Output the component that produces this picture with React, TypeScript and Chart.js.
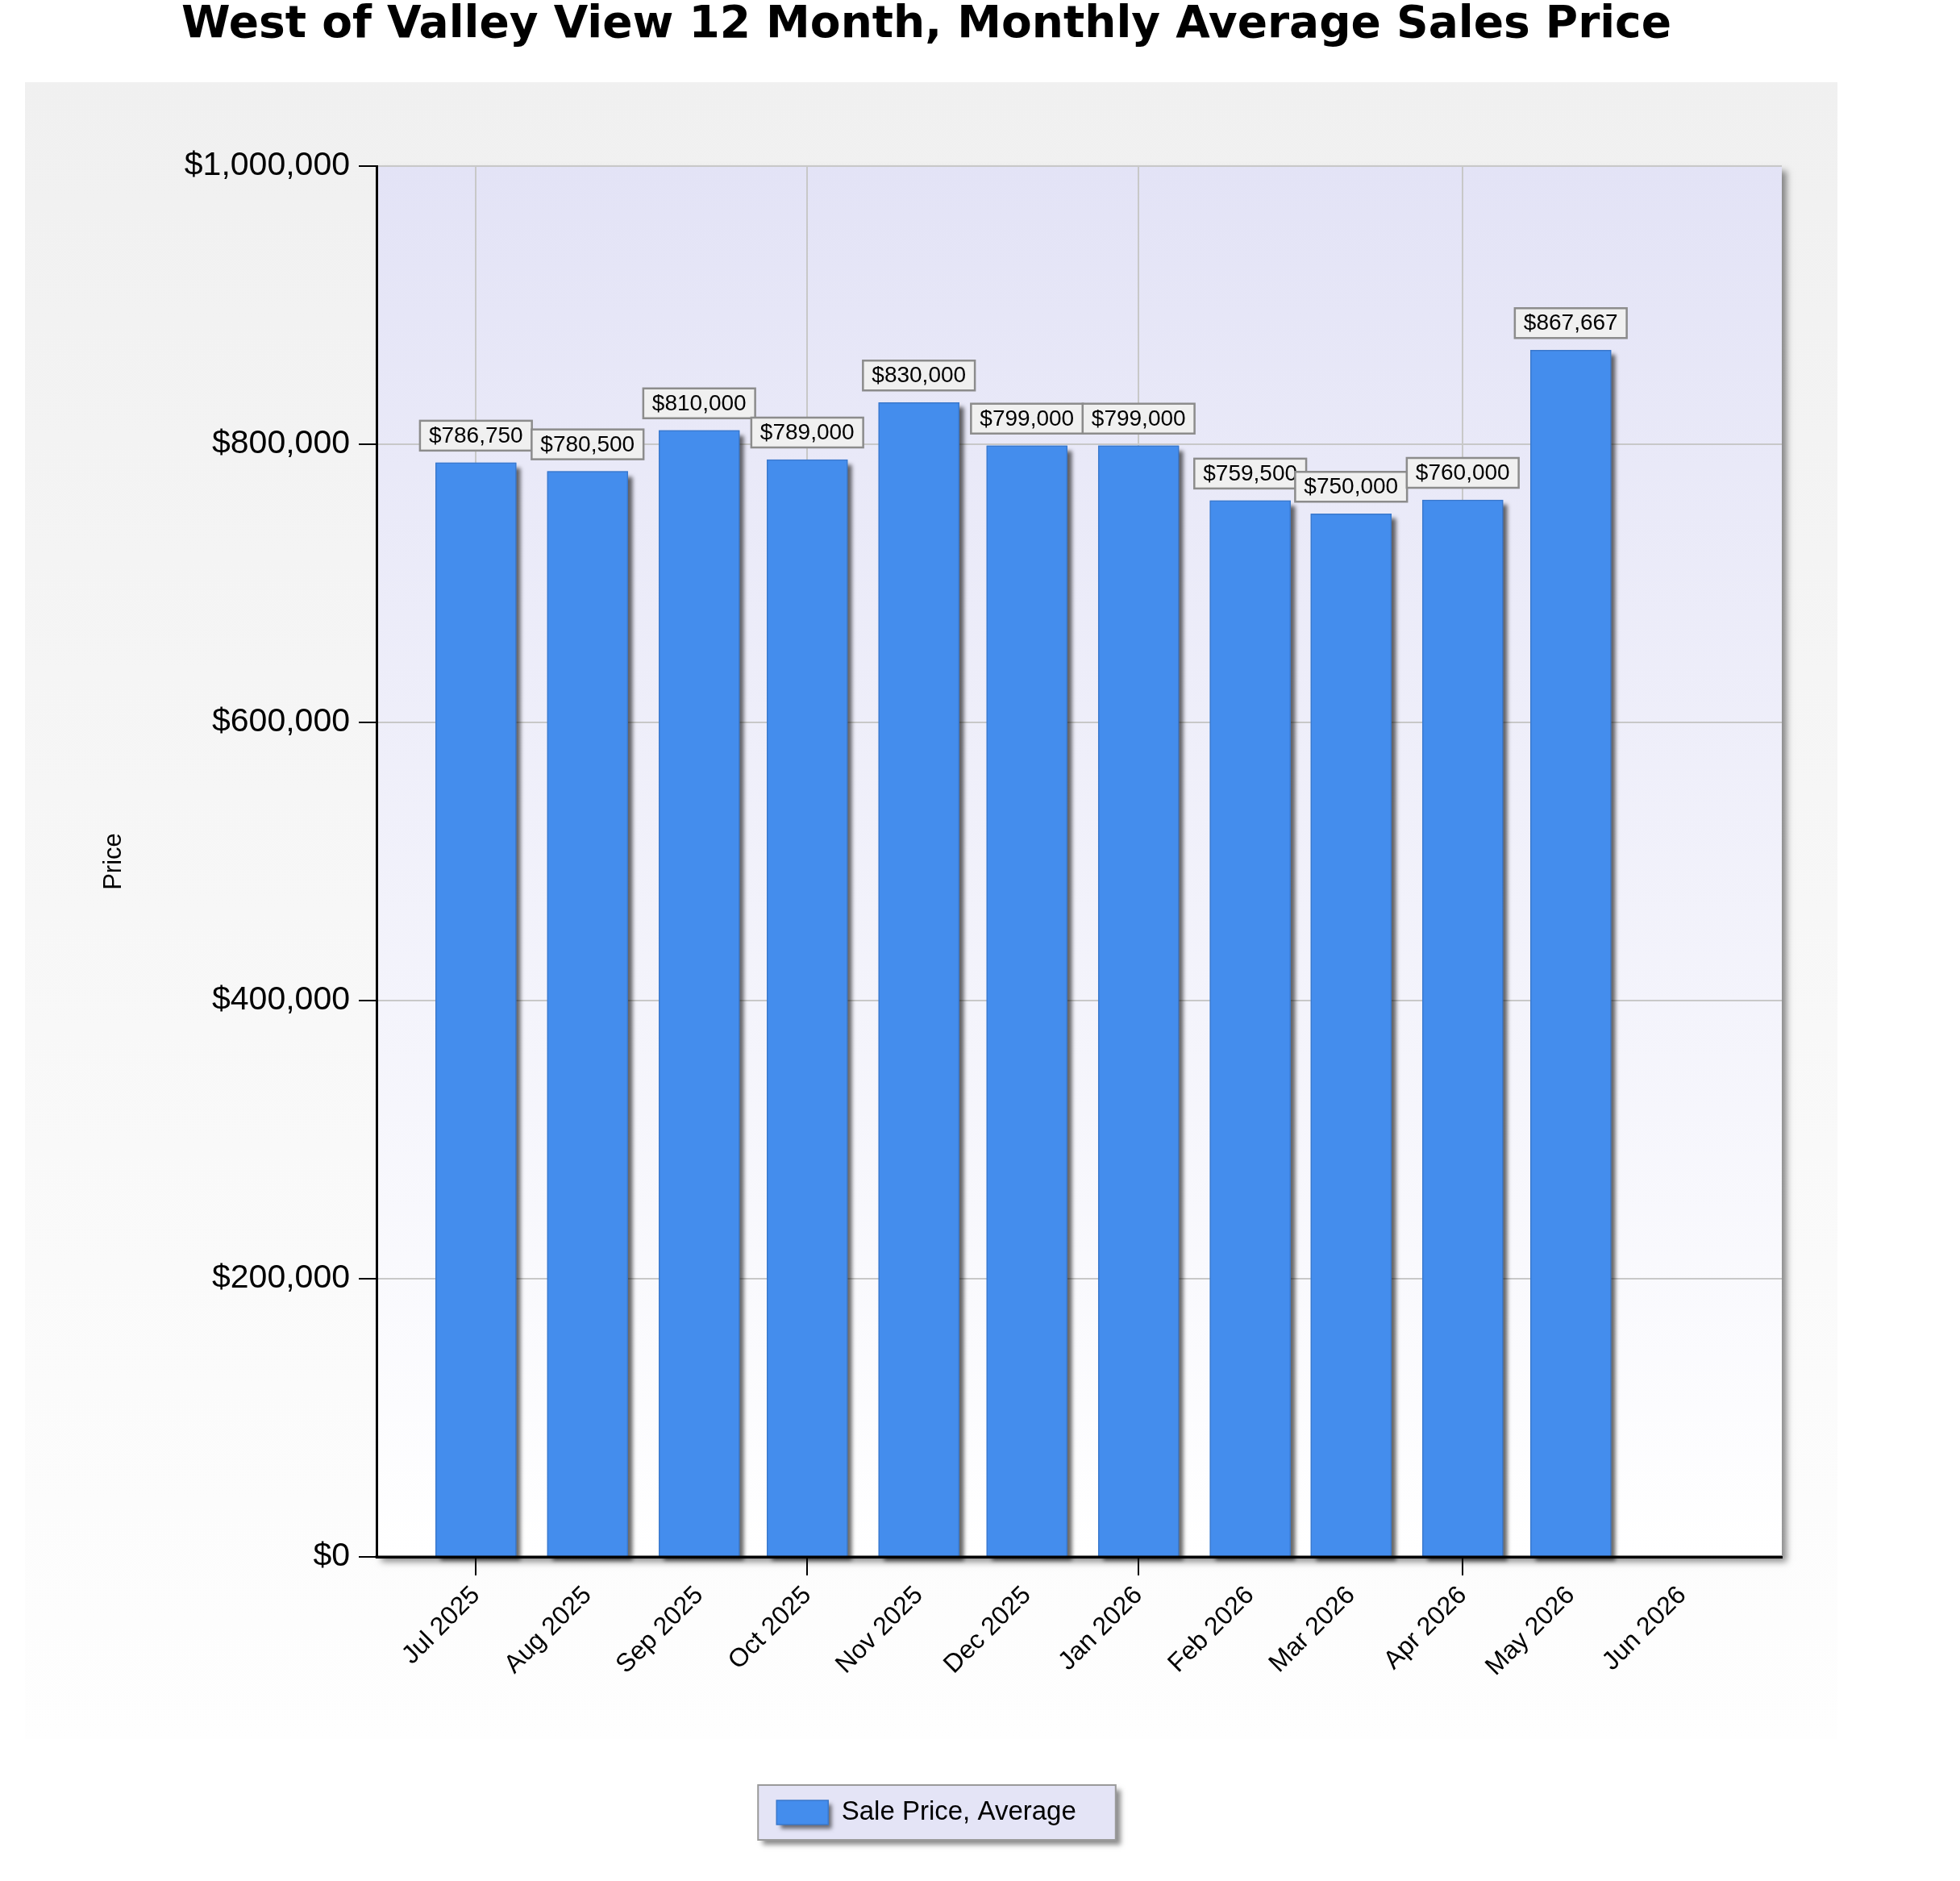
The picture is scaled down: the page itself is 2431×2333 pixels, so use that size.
import { useEffect, useRef } from "react";
import { Chart, registerables } from "chart.js";

Chart.register(...registerables);

// Chart data
const monthLabels = [
  "Jul 2025", "Aug 2025", "Sep 2025", "Oct 2025", "Nov 2025", "Dec 2025",
  "Jan 2026", "Feb 2026", "Mar 2026", "Apr 2026", "May 2026", "Jun 2026",
];
const monthStarts = [
  "2025-07-01", "2025-08-01", "2025-09-01", "2025-10-01", "2025-11-01", "2025-12-01",
  "2026-01-01", "2026-02-01", "2026-03-01", "2026-04-01", "2026-05-01", "2026-06-01",
];
const avgPrice: (number | null)[] = [
  786750, 780500, 810000, 789000, 830000, 799000,
  799000, 759500, 750000, 760000, 867667, null,
];
const priceTicks = [0, 200000, 400000, 600000, 800000, 1000000];

const TITLE = "West of Valley View 12 Month, Monthly Average Sales Price";
const SERIES = "Sale Price, Average";
const BAR_BLUE = "#448ded";

// months sit on a day-based axis (like the original time axis)
const dayNum = (iso: string) => Date.parse(iso + "T00:00:00Z") / 86400000;
const firstDay = dayNum(monthStarts[0]);
const monthDays = monthStarts.map((s) => dayNum(s) - firstDay);
const EDGE_DAYS = 27.6;

const money = (v: number) => "$" + v.toLocaleString("en-US");

// panel, plot area and legend backgrounds
const backdrop = {
  id: "backdrop",
  beforeDraw(chart: any) {
    const { ctx, chartArea: a } = chart;
    ctx.save();

    // outer gray panel
    const pTop = a.top - 104;
    const pBottom = a.bottom + 226;
    const pg = ctx.createLinearGradient(0, pTop, 0, pBottom);
    pg.addColorStop(0, "#f0f0f0");
    pg.addColorStop(1, "#fefefe");
    ctx.fillStyle = pg;
    ctx.fillRect(a.left - 436, pTop, a.width + 436 + 69, pBottom - pTop);

    // plot area with shadow
    ctx.shadowColor = "rgba(0,0,0,0.45)";
    ctx.shadowBlur = 8;
    ctx.shadowOffsetX = 6;
    ctx.shadowOffsetY = 6;
    ctx.fillStyle = "#ffffff";
    ctx.fillRect(a.left, a.top, a.width, a.height);
    ctx.shadowColor = "transparent";
    const g = ctx.createLinearGradient(0, a.top, 0, a.bottom);
    g.addColorStop(0, "#e3e3f6");
    g.addColorStop(1, "#ffffff");
    ctx.fillStyle = g;
    ctx.fillRect(a.left, a.top, a.width, a.height);

    // legend frame
    const hb = chart.legend?.legendHitBoxes?.[0];
    if (hb) {
      const cy = hb.top + hb.height / 2;
      const bx = hb.left - 23;
      const bw = hb.width + 72;
      ctx.shadowColor = "rgba(0,0,0,0.45)";
      ctx.shadowBlur = 6;
      ctx.shadowOffsetX = 6;
      ctx.shadowOffsetY = 6;
      ctx.fillStyle = "#e4e4f6";
      ctx.fillRect(bx, cy - 34, bw, 68);
      ctx.shadowColor = "transparent";
      ctx.strokeStyle = "#9a9a9a";
      ctx.lineWidth = 2;
      ctx.strokeRect(bx, cy - 34, bw, 68);
      // shadow under the swatch
      ctx.shadowColor = "rgba(0,0,0,0.55)";
      ctx.shadowBlur = 5;
      ctx.shadowOffsetX = 5;
      ctx.shadowOffsetY = 5;
      ctx.fillStyle = BAR_BLUE;
      ctx.fillRect(hb.left, cy - 15, 64, 30);
    }
    ctx.restore();
  },
};

// bar shadows, axis line over bars, value boxes
const barExtras = {
  id: "barExtras",
  beforeDatasetsDraw(chart: any) {
    const { ctx } = chart;
    ctx.save();
    ctx.shadowColor = "rgba(0,0,0,0.6)";
    ctx.shadowBlur = 5;
    ctx.shadowOffsetX = 6;
    ctx.shadowOffsetY = 6;
    ctx.fillStyle = BAR_BLUE;
    const meta = chart.getDatasetMeta(0);
    meta.data.forEach((bar: any, i: number) => {
      if (avgPrice[i] == null) return;
      const { x, y, base, width } = bar.getProps(["x", "y", "base", "width"], true);
      ctx.fillRect(x - width / 2, y, width, base - y);
    });
    ctx.restore();
  },
  afterDatasetsDraw(chart: any) {
    const { ctx, chartArea: a } = chart;
    ctx.save();

    ctx.strokeStyle = "#000";
    ctx.lineWidth = 3;
    ctx.beginPath();
    ctx.moveTo(a.left - 1.5, a.bottom);
    ctx.lineTo(a.right, a.bottom);
    ctx.stroke();

    ctx.font = '28px "Liberation Sans", Arial, sans-serif';
    ctx.textAlign = "center";
    ctx.textBaseline = "middle";
    const meta = chart.getDatasetMeta(0);
    meta.data.forEach((bar: any, i: number) => {
      const v = avgPrice[i];
      if (v == null) return;
      const text = money(v);
      const w = ctx.measureText(text).width + 22;
      const h = 37;
      const x = bar.x - w / 2;
      const y = bar.y - 15 - h;
      ctx.fillStyle = "#f0f0f0";
      ctx.fillRect(x, y, w, h);
      ctx.strokeStyle = "#8c8c8c";
      ctx.lineWidth = 2.5;
      ctx.strokeRect(x, y, w, h);
      ctx.fillStyle = "#000";
      ctx.fillText(text, bar.x, y + h / 2 + 1);
    });
    ctx.restore();
  },
};

export default function App() {
  const chartRef = useRef<HTMLCanvasElement | null>(null);
  const chartInstance = useRef<Chart | null>(null);

  useEffect(() => {
    document.body.style.margin = "0";
    if (!chartRef.current) return;
    const ctx = chartRef.current.getContext("2d");

    if (chartInstance.current) {
      chartInstance.current.destroy();
    }

    Chart.defaults.font.family = '"Liberation Sans", Arial, sans-serif';
    Chart.defaults.color = "#000";

    chartInstance.current = new Chart(ctx!, {
      type: "bar",
      data: {
        datasets: [
          {
            label: SERIES,
            data: monthDays.map((d, i) => ({ x: d, y: avgPrice[i] })) as any,
            backgroundColor: BAR_BLUE,
            borderColor: "#3a78cc",
            borderWidth: 1.5,
            barThickness: 100,
            clip: false as any,
          },
        ],
      },
      options: {
        responsive: false,
        devicePixelRatio: 1,
        animation: false,
        layout: { padding: { left: 0, right: 133, top: 0, bottom: 58.5 } },
        scales: {
          x: {
            type: "linear",
            offset: false,
            min: monthDays[0] - EDGE_DAYS,
            max: monthDays[monthDays.length - 1] + EDGE_DAYS,
            afterBuildTicks: (scale: any) => {
              scale.ticks = monthDays.map((d) => ({ value: d }));
            },
            afterFit: (scale: any) => {
              scale.height = 290.5;
            },
            ticks: {
              autoSkip: false,
              minRotation: 45,
              maxRotation: 45,
              padding: 6,
              font: { size: 32 },
              color: "#000",
              callback: (_v: any, i: number) => monthLabels[i],
            },
            grid: {
              offset: false,
              lineWidth: 2,
              color: (c: any) => (c.index % 3 === 0 ? "#c8c8c8" : "rgba(0,0,0,0)"),
              tickColor: (c: any) => (c.index % 3 === 0 ? "#000" : "rgba(0,0,0,0)"),
              tickLength: 23,
              tickWidth: 2,
            },
            border: { display: true, color: "#000", width: 3 },
          },
          y: {
            min: priceTicks[0],
            max: priceTicks[priceTicks.length - 1],
            afterBuildTicks: (scale: any) => {
              scale.ticks = priceTicks.map((v) => ({ value: v }));
            },
            afterFit: (scale: any) => {
              scale.width = 467;
            },
            ticks: {
              padding: 11,
              font: { size: 41 },
              color: "#000",
              callback: (v: any) => money(Number(v)),
            },
            grid: {
              lineWidth: 2,
              color: "#c8c8c8",
              tickColor: "#000",
              tickLength: 22,
              tickWidth: 2,
            },
            border: { display: true, color: "#000", width: 3 },
            title: {
              display: true,
              text: "Price",
              font: { size: 31 },
              color: "#000",
              padding: { top: 123, bottom: 0 },
            },
          },
          y2: {
            type: "linear",
            position: "right",
            grid: { display: false },
            ticks: { display: false },
            border: { display: false },
            afterFit: (scale: any) => {
              scale.width = 88;
            },
          },
        },
        plugins: {
          title: {
            display: true,
            text: TITLE,
            color: "#000",
            font: { family: '"DejaVu Sans", Verdana, sans-serif', size: 55, weight: "bold" },
            padding: { top: -1, bottom: 141 },
          },
          legend: {
            position: "bottom",
            labels: {
              boxWidth: 64,
              boxHeight: 30,
              padding: 10,
              color: "#000",
              font: { size: 33 },
            },
          },
          tooltip: { enabled: false },
        },
      } as any,
      plugins: [backdrop, barExtras],
    });

    return () => {
      if (chartInstance.current) {
        chartInstance.current.destroy();
        chartInstance.current = null;
      }
    };
  }, []);

  return (
    <canvas
      ref={chartRef}
      width={2431}
      height={2333}
      style={{ display: "block", width: 2431, height: 2333 }}
    />
  );
}
